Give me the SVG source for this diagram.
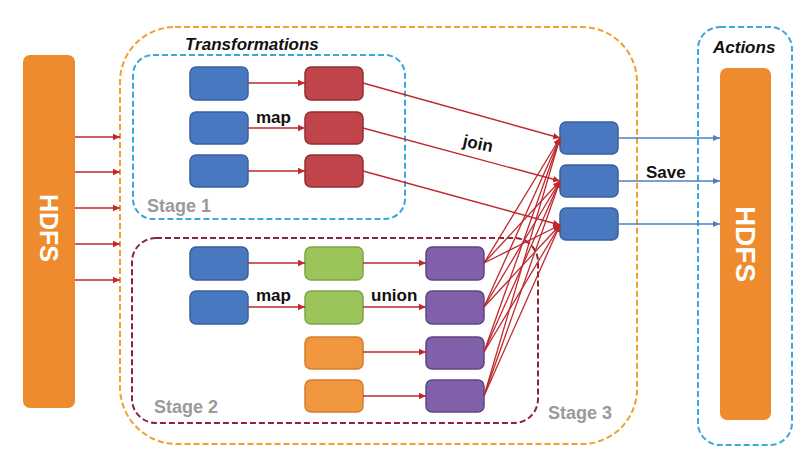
<svg xmlns="http://www.w3.org/2000/svg" width="810" height="466" viewBox="0 0 810 466">
<defs>
<marker id="ar" markerUnits="userSpaceOnUse" markerWidth="8" markerHeight="8" refX="7" refY="4" orient="auto"><path d="M0,0.8 L7,4 L0,7.2 Z" fill="#c0282d"/></marker>
<marker id="ab" markerUnits="userSpaceOnUse" markerWidth="8" markerHeight="8" refX="7" refY="4" orient="auto"><path d="M0,1 L7,4 L0,7 Z" fill="#4f7fc0"/></marker>
</defs>
<style>
.hdfs{fill:#ee8b2f}
.ht{font-family:"Liberation Sans",Arial,sans-serif;font-weight:bold;fill:#fff;text-anchor:middle;dominant-baseline:central}
.b{fill:#4a78c0;stroke:#36609e;stroke-width:1.5}
.r{fill:#c0444a;stroke:#8f2f34;stroke-width:1.5}
.g{fill:#9bc45a;stroke:#7fa446;stroke-width:1.5}
.o{fill:#f0963f;stroke:#d57d2c;stroke-width:1.5}
.p{fill:#8060a8;stroke:#5d4584;stroke-width:1.5}
.lbl{font-family:"Liberation Sans",Arial,sans-serif;font-weight:bold;font-size:17px;fill:#111}
.it{font-style:italic}
.st{font-family:"Liberation Sans",Arial,sans-serif;font-weight:bold;font-size:18px;fill:#9a9a9a}
.rl{stroke:#c0282d;stroke-width:1.3;fill:none;marker-end:url(#ar)}
.bl{stroke:#4f7fc0;stroke-width:1.3;fill:none;marker-end:url(#ab)}
</style>
<g id="containers" fill="none">
<path id="transformations-box" d="M175,27 H582 A55,55 0 0 1 637,82 V389 A55,55 0 0 1 582,444 H177 A57,57 0 0 1 120,387 V82 A55,55 0 0 1 175,27 Z" stroke="#f0a030" stroke-width="2" stroke-dasharray="6,3"/>
<rect id="stage1" x="133" y="55" width="272" height="164" rx="20" stroke="#3aa8d6" stroke-width="2" stroke-dasharray="6,3"/>
<rect id="stage2" x="132" y="238" width="406" height="185" rx="24" stroke="#8a2638" stroke-width="2" stroke-dasharray="6,3"/>
<rect id="actions-box" x="698" y="27" width="94" height="418" rx="22" stroke="#3aa8d6" stroke-width="2" stroke-dasharray="6,3"/>
</g>
<g id="hdfs-in"><rect class="hdfs" x="23" y="55" width="52" height="353" rx="7"/><text class="ht" font-size="25" transform="translate(49,228) rotate(90)">HDFS</text></g>
<g id="hdfs-out"><rect class="hdfs" x="720" y="68" width="51" height="352" rx="7"/><text class="ht" font-size="28" transform="translate(745.5,244) rotate(90)">HDFS</text></g>
<g id="s1-b1"><rect class="b" x="190" y="67" width="58" height="33" rx="6"/></g>
<g id="s1-b2"><rect class="b" x="190" y="112" width="58" height="32" rx="6"/></g>
<g id="s1-b3"><rect class="b" x="190" y="155" width="58" height="32" rx="6"/></g>
<g id="s1-r1"><rect class="r" x="305" y="67" width="58" height="33" rx="6"/></g>
<g id="s1-r2"><rect class="r" x="305" y="112" width="58" height="32" rx="6"/></g>
<g id="s1-r3"><rect class="r" x="305" y="155" width="58" height="32" rx="6"/></g>
<g id="s2-b1"><rect class="b" x="190" y="247" width="58" height="33" rx="6"/></g>
<g id="s2-b2"><rect class="b" x="190" y="291" width="58" height="33" rx="6"/></g>
<g id="s2-g1"><rect class="g" x="305" y="247" width="58" height="33" rx="6"/></g>
<g id="s2-g2"><rect class="g" x="305" y="291" width="58" height="33" rx="6"/></g>
<g id="s2-o1"><rect class="o" x="305" y="337" width="58" height="32" rx="6"/></g>
<g id="s2-o2"><rect class="o" x="305" y="380" width="58" height="32" rx="6"/></g>
<g id="s2-p1"><rect class="p" x="426" y="247" width="58" height="33" rx="6"/></g>
<g id="s2-p2"><rect class="p" x="426" y="291" width="58" height="33" rx="6"/></g>
<g id="s2-p3"><rect class="p" x="426" y="337" width="58" height="32" rx="6"/></g>
<g id="s2-p4"><rect class="p" x="426" y="380" width="58" height="32" rx="6"/></g>
<g id="j1"><rect class="b" x="560" y="122" width="58" height="32" rx="6"/></g>
<g id="j2"><rect class="b" x="560" y="165" width="58" height="32" rx="6"/></g>
<g id="j3"><rect class="b" x="560" y="208" width="58" height="32" rx="6"/></g>
<g id="connectors">
<line class="rl" x1="75" y1="137" x2="120" y2="137"/>
<line class="rl" x1="75" y1="172" x2="120" y2="172"/>
<line class="rl" x1="75" y1="208" x2="120" y2="208"/>
<line class="rl" x1="75" y1="244" x2="120" y2="244"/>
<line class="rl" x1="75" y1="280" x2="120" y2="280"/>
<line class="rl" x1="248" y1="83" x2="305" y2="83"/>
<line class="rl" x1="248" y1="128" x2="305" y2="128"/>
<line class="rl" x1="248" y1="171" x2="305" y2="171"/>
<line class="rl" x1="363" y1="83" x2="560" y2="138"/>
<line class="rl" x1="363" y1="128" x2="560" y2="181"/>
<line class="rl" x1="363" y1="171" x2="560" y2="225"/>
<line class="rl" x1="248" y1="263" x2="305" y2="263"/>
<line class="rl" x1="248" y1="307" x2="305" y2="307"/>
<line class="rl" x1="363" y1="263" x2="426" y2="263"/>
<line class="rl" x1="363" y1="307" x2="426" y2="307"/>
<line class="rl" x1="363" y1="352" x2="426" y2="352"/>
<line class="rl" x1="363" y1="396" x2="426" y2="396"/>
<line class="rl" x1="484" y1="263" x2="560" y2="138"/>
<line class="rl" x1="484" y1="263" x2="560" y2="181"/>
<line class="rl" x1="484" y1="263" x2="560" y2="225"/>
<line class="rl" x1="484" y1="307" x2="560" y2="138"/>
<line class="rl" x1="484" y1="307" x2="560" y2="181"/>
<line class="rl" x1="484" y1="307" x2="560" y2="225"/>
<line class="rl" x1="484" y1="352" x2="560" y2="138"/>
<line class="rl" x1="484" y1="352" x2="560" y2="181"/>
<line class="rl" x1="484" y1="352" x2="560" y2="225"/>
<line class="rl" x1="484" y1="396" x2="560" y2="138"/>
<line class="rl" x1="484" y1="396" x2="560" y2="181"/>
<line class="rl" x1="484" y1="396" x2="560" y2="225"/>
<line class="bl" x1="618" y1="138" x2="720" y2="138"/>
<line class="bl" x1="618" y1="181" x2="720" y2="181"/>
<line class="bl" x1="618" y1="224" x2="720" y2="224"/>
</g>
<g id="labels">
<text class="lbl it" x="185" y="50">Transformations</text>
<text class="lbl it" x="713" y="53">Actions</text>
<text class="lbl" x="256" y="123">map</text>
<text class="lbl" x="256" y="301">map</text>
<text class="lbl" x="371" y="301">union</text>
<text class="lbl" x="646" y="178">Save</text>
<text class="lbl" transform="translate(462,146) rotate(12)">join</text>
<text class="st" x="147" y="212">Stage 1</text>
<text class="st" x="154" y="413">Stage 2</text>
<text class="st" x="548" y="419">Stage 3</text>
</g>
</svg>
